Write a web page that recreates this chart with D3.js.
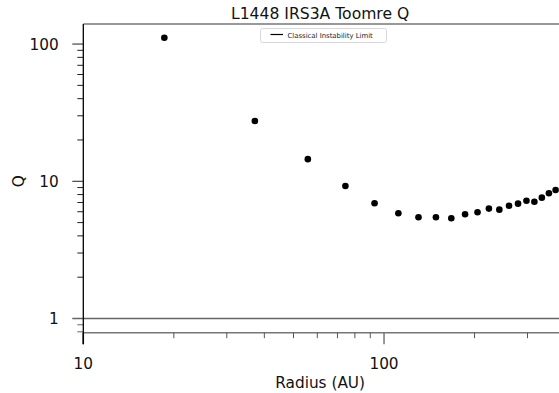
<!DOCTYPE html>
<html>
<head>
<meta charset="utf-8">
<script src="https://cdn.jsdelivr.net/npm/d3@7"></script>
<style>
  body { margin: 0; background: #fff; }
  svg { display: block; font-family: "DejaVu Sans", sans-serif; }
</style>
</head>
<body>
<div id="chart-area"></div>
<script>
// radius in AU, Toomre Q
const radius = [18.6, 37.2, 55.8, 74.4, 93.0, 111.6, 130.2, 148.8, 167.4, 186.0,
  204.6, 223.2, 241.8, 260.4, 279.0, 297.6, 316.2, 334.8, 353.4, 372.0];
const toomreQ = [111.2, 27.5, 14.5, 9.24, 6.92, 5.85, 5.47, 5.47, 5.38, 5.75,
  5.95, 6.32, 6.21, 6.64, 6.87, 7.22, 7.10, 7.60, 8.18, 8.64];
const xTickLabels = [10, 100];
const yTickLabels = [1, 10, 100];
const limitQ = 1;

const W = 559, H = 393;
const margin = { left: 83.3, right: 2, top: 24, bottom: 60.3 };
const width = W - margin.left - margin.right,
  height = H - margin.top - margin.bottom;

let svg = d3.select('#chart-area')
  .append('svg')
  .attr('width', W)
  .attr('height', H);

let g = svg.append('g')
  .attr('transform', `translate(${margin.left}, ${margin.top})`);

const x = d3.scaleLog().domain([10, 376]).range([0, width]);
const y = d3.scaleLog().domain([0.788, 140]).range([height, 0]);

const minorX = d3.range(2, 10).map(d => d * 10).concat([200, 300]);
const minorY = [0.8, 0.9].concat(d3.range(2, 10), d3.range(2, 10).map(d => d * 10));

// spines
g.append('line')
  .attr('x1', 0).attr('x2', W - margin.left)
  .attr('y1', 0).attr('y2', 0)
  .attr('stroke', '#777').attr('stroke-width', 1.6);
g.append('line')
  .attr('x1', 0).attr('x2', W - margin.left)
  .attr('y1', height).attr('y2', height)
  .attr('stroke', '#777').attr('stroke-width', 1.6);

// classical instability limit
g.append('line')
  .attr('x1', -11).attr('x2', W - margin.left)
  .attr('y1', y(limitQ)).attr('y2', y(limitQ))
  .attr('stroke', '#666').attr('stroke-width', 1.6);

// x ticks
g.selectAll('.xminor')
  .data(minorX)
  .join('line')
  .attr('x1', d => x(d)).attr('x2', d => x(d))
  .attr('y1', height).attr('y2', height + 5.5)
  .attr('stroke', '#555').attr('stroke-width', 1);
g.selectAll('.xmajor')
  .data(xTickLabels)
  .join('line')
  .attr('x1', d => x(d)).attr('x2', d => x(d))
  .attr('y1', height).attr('y2', height + 11.5)
  .attr('stroke', (d, i) => i === 0 ? '#000' : '#777').attr('stroke-width', 1.5);
g.selectAll('.xlab')
  .data(xTickLabels)
  .join('text')
  .attr('x', d => x(d))
  .attr('y', height + 36.5)
  .attr('text-anchor', 'middle')
  .attr('font-size', 15.3)
  .attr('fill', '#111')
  .text(d => d);

// y ticks
g.selectAll('.yminor')
  .data(minorY)
  .join('line')
  .attr('x1', -6).attr('x2', 0)
  .attr('y1', d => y(d)).attr('y2', d => y(d))
  .attr('stroke', d => d < 1 ? '#666' : '#222').attr('stroke-width', 1);
g.selectAll('.ymajor')
  .data(yTickLabels.filter(d => d !== limitQ))
  .join('line')
  .attr('x1', -11).attr('x2', 0)
  .attr('y1', d => y(d)).attr('y2', d => y(d))
  .attr('stroke', '#222').attr('stroke-width', 1);
g.selectAll('.ylab')
  .data(yTickLabels)
  .join('text')
  .attr('x', -24.5)
  .attr('y', d => y(d))
  .attr('dy', '0.36em')
  .attr('text-anchor', 'end')
  .attr('font-size', 15.3)
  .attr('fill', '#111')
  .text(d => d);

// left spine (runs down as the 10 tick)
g.append('line')
  .attr('x1', 0).attr('x2', 0)
  .attr('y1', 0).attr('y2', height + 11.5)
  .attr('stroke', '#000').attr('stroke-width', 1.3);

// points
g.selectAll('circle')
  .data(radius.map((r, i) => [r, toomreQ[i]]))
  .join('circle')
  .attr('cx', d => x(d[0]))
  .attr('cy', d => y(d[1]))
  .attr('r', 3.3)
  .attr('fill', '#000');

// legend
const leg = svg.append('g').attr('transform', 'translate(260, 28)');
leg.append('rect')
  .attr('x', 0.5).attr('y', 0.5)
  .attr('width', 126).attr('height', 14)
  .attr('rx', 2)
  .attr('fill', '#fff').attr('stroke', '#d8d8d8');
leg.append('line')
  .attr('x1', 10.5).attr('x2', 23)
  .attr('y1', 6.5).attr('y2', 6.5)
  .attr('stroke', '#000').attr('stroke-width', 1.2);
leg.append('text')
  .attr('x', 27.5).attr('y', 9.5)
  .attr('font-size', 6.9)
  .attr('fill', '#222')
  .text('Classical Instability Limit');

// titles
svg.append('text')
  .attr('x', margin.left + width / 2).attr('y', 19)
  .attr('text-anchor', 'middle')
  .attr('font-size', 15.6)
  .attr('fill', '#111')
  .text('L1448 IRS3A Toomre Q');
svg.append('text')
  .attr('x', margin.left + width / 2).attr('y', 387.5)
  .attr('text-anchor', 'middle')
  .attr('font-size', 15.3)
  .attr('fill', '#111')
  .text('Radius (AU)');
svg.append('text')
  .attr('transform', `translate(24, ${y(10) + margin.top}) rotate(-90)`)
  .attr('text-anchor', 'middle')
  .attr('font-size', 15.3)
  .attr('fill', '#111')
  .text('Q');
</script>
</body>
</html>
